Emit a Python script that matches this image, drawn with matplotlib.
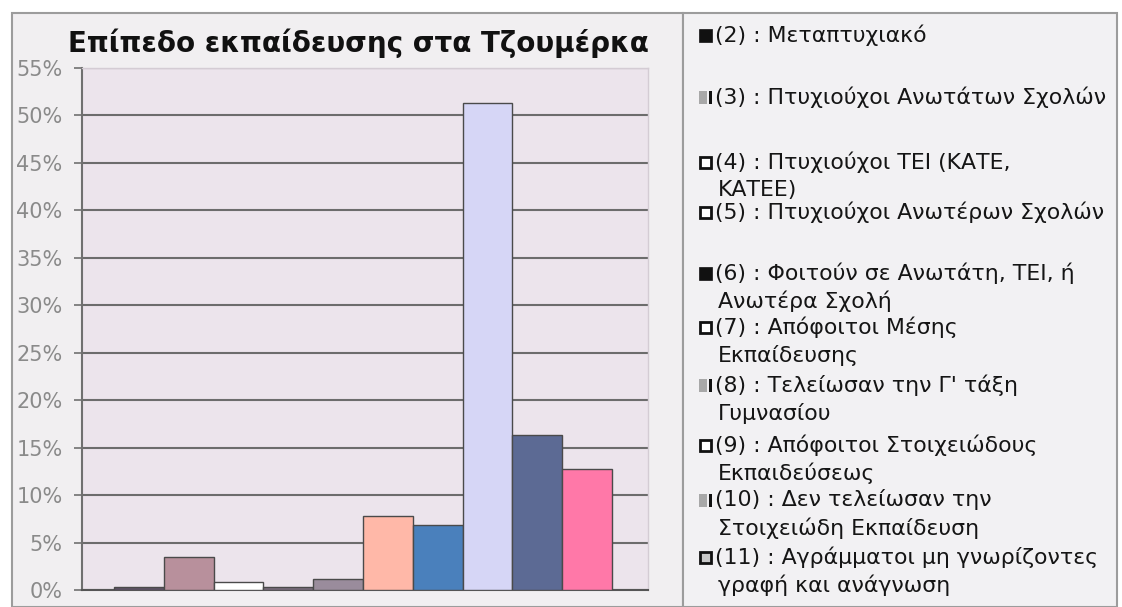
import matplotlib
matplotlib.use("Agg")
import matplotlib.pyplot as plt
from matplotlib.patches import Rectangle
import numpy as np

# ---------------- data ----------------
title = "Επίπεδο εκπαίδευσης στα Τζουμέρκα"
categories = ["(2)", "(3)", "(4)", "(5)", "(6)", "(7)", "(8)", "(9)", "(10)", "(11)"]
values = [0.3, 3.5, 0.85, 0.3, 1.2, 7.8, 6.9, 51.3, 16.3, 12.7]
legend_labels = [
    "(2) : Μεταπτυχιακό",
    "(3) : Πτυχιούχοι Ανωτάτων Σχολών",
    "(4) : Πτυχιούχοι ΤΕΙ (ΚΑΤΕ,\nΚΑΤΕΕ)",
    "(5) : Πτυχιούχοι Ανωτέρων Σχολών",
    "(6) : Φοιτούν σε Ανωτάτη, ΤΕΙ, ή\nΑνωτέρα Σχολή",
    "(7) : Απόφοιτοι Μέσης\nΕκπαίδευσης",
    "(8) : Τελείωσαν την Γ' τάξη\nΓυμνασίου",
    "(9) : Απόφοιτοι Στοιχειώδους\nΕκπαιδεύσεως",
    "(10) : Δεν τελείωσαν την\nΣτοιχειώδη Εκπαίδευση",
    "(11) : Αγράμματοι μη γνωρίζοντες\nγραφή και ανάγνωση",
]
yticks = [0, 5, 10, 15, 20, 25, 30, 35, 40, 45, 50, 55]
ytick_labels = [f"{t}%" for t in yticks]

# ---------------- style ----------------
bar_colors = ["#5e5266", "#b8909c", "#ffffff", "#7a6c7c", "#9a8c9c",
              "#ffb8a8", "#4a80bc", "#d6d6f6", "#5c6a94", "#ff78a8"]
marker_kinds = ["black", "greybar", "white", "white", "black",
                "white", "greybar", "white", "greybar", "whitegrey"]
legend_y = [35, 97, 162, 212, 273, 327, 385, 445, 500, 557]

W, H = 1122, 607
fig = plt.figure(figsize=(W / 100, H / 100), dpi=100)
fig.patch.set_facecolor("white")


def fx(x):
    return x / W


def fy(y):
    return 1 - y / H


# chart area frame
fig.add_artist(Rectangle((fx(12), 0), (683 - 12) / W, (H - 13) / H,
                         transform=fig.transFigure, facecolor="#f1eff1",
                         edgecolor="#9c9c9c", lw=1.5, zorder=0))
# legend frame
fig.add_artist(Rectangle((fx(683), 0), (1117 - 683) / W, (H - 13) / H,
                         transform=fig.transFigure, facecolor="#f2f1f3",
                         edgecolor="#9c9c9c", lw=1.5, zorder=0))

ax = fig.add_axes([fx(82), (H - 590) / H, (648 - 82) / W, (590 - 68) / H])
ax.set_facecolor("#ece4ec")
x = np.arange(len(categories))
ax.bar(x, values, width=1.0, color=bar_colors, edgecolor="#4a4a4a",
       linewidth=1.0, zorder=3)
ax.set_xlim(-0.5 - 0.64, len(categories) - 0.5 + 0.72)
ax.set_ylim(0, 55)
ax.set_yticks(yticks)
ax.set_yticklabels(ytick_labels)
ax.set_xticks([])
ax.yaxis.grid(True, color="#6c6c6c", lw=1.5)
ax.set_axisbelow(True)
for s in ["top", "right"]:
    ax.spines[s].set_color("#d4ccd4")
    ax.spines[s].set_linewidth(1.0)
ax.spines["left"].set_color("#707070")
ax.spines["left"].set_linewidth(1.5)
ax.spines["bottom"].set_color("#555555")
ax.spines["bottom"].set_linewidth(1.5)
ax.tick_params(axis="y", length=6, width=1.2, color="#707070",
               labelcolor="#8a8a8a", labelsize=15, pad=8)
for lab in ax.get_yticklabels():
    lab.set_family("DejaVu Sans")

fig.text(fx(358), fy(43), title, ha="center", va="center", fontsize=20,
         fontweight="bold", family="DejaVu Sans", color="#111111")

# legend
ms = 13
for lab, kind, y0 in zip(legend_labels, marker_kinds, legend_y):
    mx, my = 699, y0 - ms / 2
    if kind == "black":
        fig.add_artist(Rectangle((fx(mx), fy(my + ms)), ms / W, ms / H,
                                 transform=fig.transFigure, facecolor="#111111",
                                 edgecolor="#111111", lw=0.5))
    elif kind == "greybar":
        fig.add_artist(Rectangle((fx(mx), fy(my + ms)), 8 / W, ms / H,
                                 transform=fig.transFigure, facecolor="#a8a8a8",
                                 edgecolor="none"))
        fig.add_artist(Rectangle((fx(mx + 10), fy(my + ms)), 3 / W, ms / H,
                                 transform=fig.transFigure, facecolor="#111111",
                                 edgecolor="none"))
    else:
        face = "#ffffff" if kind == "white" else "#c8c8c8"
        fig.add_artist(Rectangle((fx(mx + 1), fy(my + ms - 1)), (ms - 2) / W, (ms - 2) / H,
                                 transform=fig.transFigure, facecolor=face,
                                 edgecolor="#111111", lw=2.0))
    for j, line in enumerate(lab.split("\n")):
        fig.text(fx(715 if j == 0 else 718), fy(y0 + j * 28), line,
                 ha="left", va="center", fontsize=15.8, family="DejaVu Sans",
                 color="#151515")

fig.savefig("out.png", dpi=100, facecolor=fig.get_facecolor())
